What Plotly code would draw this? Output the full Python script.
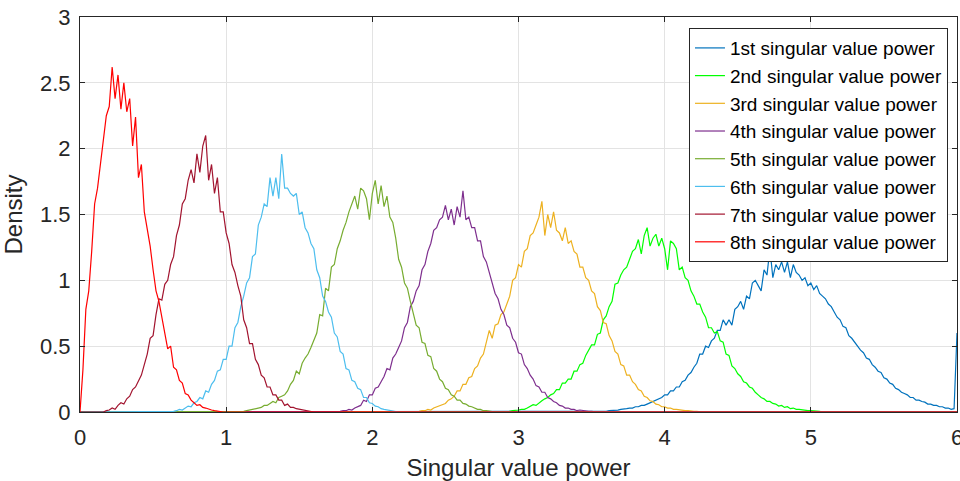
import plotly.graph_objects as go

STEP = 0.02
NAMES = ["1st singular value power", "2nd singular value power", "3rd singular value power",
         "4th singular value power", "5th singular value power", "6th singular value power",
         "7th singular value power", "8th singular value power"]
COLORS = ["#0072BD", "#00FF00", "#EDB120", "#7E2F8E", "#77AC30", "#4DBEEE", "#A2142F", "#FF0000"]

STARTS = [3.56, 2.90, 2.30, 1.76, 1.10, 0.60, 0.16, 0.00]
END_VALUES = [0.6, 0.0, 0.0, 0.0, 0.0, 0.0, 0.0, 0.0]

blue_vals = [0.0, 0.005, 0.005, 0.01, 0.01, 0.01, 0.015, 0.02, 0.02, 0.025,
             0.03, 0.03, 0.04, 0.04, 0.05, 0.05, 0.06, 0.07, 0.08, 0.09,
             0.10, 0.11, 0.13, 0.13, 0.16, 0.16, 0.19, 0.19, 0.23, 0.24,
             0.28, 0.30, 0.34, 0.37, 0.44, 0.44, 0.50, 0.49, 0.54, 0.56,
             0.62, 0.62, 0.70, 0.66, 0.70, 0.66, 0.78, 0.80, 0.84, 0.78,
             0.88, 0.86, 0.98, 1.00, 0.96, 0.92, 1.08, 1.04, 1.24, 1.02,
             1.12, 1.08, 1.14, 1.06, 1.14, 1.02, 1.12, 1.06, 1.04, 1.00,
             1.02, 0.96, 0.98, 0.93, 0.96, 0.90, 0.88, 0.86, 0.82, 0.80,
             0.76, 0.72, 0.70, 0.65, 0.64, 0.58, 0.56, 0.53, 0.50, 0.47,
             0.45, 0.41, 0.40, 0.36, 0.34, 0.31, 0.30, 0.26, 0.25, 0.22,
             0.21, 0.18, 0.17, 0.15, 0.14, 0.13, 0.11, 0.11, 0.09, 0.09,
             0.08, 0.075, 0.06, 0.06, 0.05, 0.05, 0.04, 0.04, 0.03, 0.03,
             0.02, 0.025]

green_vals = [0.0, 0.005, 0.005, 0.01, 0.01, 0.015, 0.02, 0.02, 0.03, 0.04,
              0.055, 0.05, 0.07, 0.085, 0.10, 0.11, 0.13, 0.14, 0.17, 0.17,
              0.22, 0.22, 0.25, 0.25, 0.31, 0.31, 0.36, 0.37, 0.43, 0.47,
              0.51, 0.51, 0.59, 0.60, 0.70, 0.73, 0.80, 0.84, 0.97, 0.98,
              1.04, 1.08, 1.10, 1.16, 1.22, 1.24, 1.31, 1.20, 1.34, 1.40,
              1.26, 1.32, 1.35, 1.26, 1.32, 1.24, 1.08, 1.30, 1.28, 1.24,
              1.08, 1.10, 1.02, 1.00, 0.92, 0.88, 0.82, 0.82, 0.76, 0.72,
              0.64, 0.64, 0.60, 0.61, 0.54, 0.53, 0.44, 0.43, 0.35, 0.33,
              0.29, 0.27, 0.23, 0.22, 0.19, 0.18, 0.15, 0.13, 0.11, 0.10,
              0.08, 0.08, 0.065, 0.06, 0.045, 0.05, 0.035, 0.04, 0.025, 0.03,
              0.02, 0.02, 0.015, 0.015, 0.01, 0.01, 0.01, 0.005, 0.005, 0.0,
              0.0, 0.0]

orange_vals = [0.0, 0.005, 0.01, 0.01, 0.02, 0.015, 0.03, 0.04, 0.05, 0.06,
               0.065, 0.09, 0.10, 0.12, 0.16, 0.16, 0.21, 0.21, 0.26, 0.27,
               0.33, 0.35, 0.41, 0.44, 0.52, 0.62, 0.56, 0.66, 0.67, 0.74,
               0.76, 0.82, 0.88, 1.00, 1.02, 1.12, 1.10, 1.22, 1.24, 1.34,
               1.36, 1.42, 1.48, 1.60, 1.34, 1.50, 1.40, 1.52, 1.38, 1.36,
               1.30, 1.40, 1.28, 1.30, 1.22, 1.20, 1.10, 1.10, 1.02, 1.00,
               0.92, 0.90, 0.80, 0.77, 0.68, 0.67, 0.58, 0.54, 0.46, 0.44,
               0.36, 0.35, 0.28, 0.28, 0.23, 0.21, 0.17, 0.16, 0.12, 0.11,
               0.085, 0.08, 0.06, 0.055, 0.04, 0.04, 0.03, 0.03, 0.02, 0.02,
               0.015, 0.01, 0.01, 0.01, 0.005, 0.005, 0.005, 0.0, 0.0, 0.0]

purple_vals = [0.0, 0.005, 0.01, 0.01, 0.02, 0.015, 0.03, 0.04, 0.05, 0.09,
               0.08, 0.13, 0.13, 0.18, 0.19, 0.23, 0.27, 0.33, 0.32, 0.41,
               0.44, 0.49, 0.54, 0.64, 0.68, 0.80, 0.84, 0.92, 0.96, 1.08,
               1.12, 1.22, 1.28, 1.38, 1.40, 1.46, 1.48, 1.57, 1.46, 1.54,
               1.42, 1.56, 1.48, 1.68, 1.46, 1.48, 1.40, 1.40, 1.30, 1.30,
               1.18, 1.14, 1.06, 1.00, 0.90, 0.86, 0.78, 0.74, 0.66, 0.64,
               0.56, 0.53, 0.45, 0.44, 0.36, 0.33, 0.28, 0.25, 0.20, 0.19,
               0.15, 0.15, 0.11, 0.10, 0.08, 0.07, 0.05, 0.045, 0.03, 0.03,
               0.02, 0.02, 0.01, 0.015, 0.01, 0.005, 0.005, 0.005, 0.0, 0.0]

olive_vals = [0.0, 0.005, 0.01, 0.015, 0.02, 0.025, 0.03, 0.035, 0.05, 0.05,
              0.065, 0.08, 0.07, 0.11, 0.12, 0.13, 0.16, 0.21, 0.24, 0.31,
              0.29, 0.37, 0.41, 0.44, 0.49, 0.54, 0.60, 0.74, 0.73, 0.94,
              0.92, 1.10, 1.12, 1.24, 1.30, 1.38, 1.44, 1.52, 1.58, 1.64,
              1.54, 1.70, 1.68, 1.62, 1.46, 1.66, 1.76, 1.58, 1.72, 1.56,
              1.64, 1.48, 1.44, 1.32, 1.16, 1.10, 0.98, 0.94, 0.84, 0.74,
              0.66, 0.64, 0.53, 0.52, 0.43, 0.42, 0.33, 0.31, 0.25, 0.23,
              0.18, 0.17, 0.13, 0.12, 0.09, 0.09, 0.065, 0.06, 0.045, 0.04,
              0.03, 0.02, 0.02, 0.01, 0.01, 0.005, 0.0, 0.0]

cyan_vals = [0.0, 0.0, 0.005, 0.01, 0.02, 0.015, 0.03, 0.045, 0.04, 0.07,
             0.08, 0.11, 0.10, 0.16, 0.15, 0.21, 0.24, 0.31, 0.32, 0.40,
             0.40, 0.50, 0.50, 0.64, 0.68, 0.80, 0.88, 0.98, 1.02, 1.18,
             1.20, 1.42, 1.48, 1.58, 1.56, 1.78, 1.64, 1.78, 1.62, 1.96,
             1.70, 1.70, 1.66, 1.64, 1.66, 1.50, 1.52, 1.40, 1.36, 1.28,
             1.24, 1.08, 1.02, 0.88, 0.84, 0.76, 0.72, 0.60, 0.57, 0.46,
             0.44, 0.33, 0.32, 0.24, 0.23, 0.18, 0.17, 0.11, 0.11, 0.07,
             0.065, 0.045, 0.04, 0.025, 0.02, 0.015, 0.01, 0.01, 0.005, 0.0,
             0.0]

darkred_vals = [0.0, 0.01, 0.015, 0.03, 0.02, 0.05, 0.07, 0.06, 0.10, 0.12,
                0.17, 0.19, 0.24, 0.28, 0.36, 0.44, 0.56, 0.58, 0.74, 0.86,
                0.85, 0.97, 1.00, 1.12, 1.18, 1.34, 1.42, 1.58, 1.62, 1.76,
                1.84, 1.74, 1.96, 1.82, 2.02, 2.10, 1.76, 1.88, 1.66, 1.78,
                1.52, 1.52, 1.36, 1.28, 1.12, 1.06, 0.96, 0.88, 0.70, 0.64,
                0.52, 0.52, 0.40, 0.36, 0.28, 0.26, 0.19, 0.19, 0.13, 0.13,
                0.09, 0.09, 0.05, 0.06, 0.035, 0.035, 0.025, 0.02, 0.015, 0.01,
                0.01, 0.005, 0.0]

red_vals = [0.00, 0.32, 0.78, 0.92, 1.22, 1.58, 1.70, 1.88, 2.08, 2.25,
            2.32, 2.62, 2.38, 2.56, 2.30, 2.50, 2.28, 2.38, 2.02, 2.24,
            1.78, 1.88, 1.52, 1.40, 1.26, 1.08, 0.92, 0.84, 0.72, 0.62,
            0.48, 0.50, 0.34, 0.32, 0.24, 0.22, 0.14, 0.13, 0.09, 0.07,
            0.05, 0.055, 0.035, 0.03, 0.02, 0.015, 0.01, 0.005, 0.0, 0.0,
            0.0]

SERIES = [blue_vals, green_vals, orange_vals, purple_vals,
          olive_vals, cyan_vals, darkred_vals, red_vals]

AX_COLOR = "#262626"
FONT = "Liberation Sans, Arial, Helvetica, sans-serif"

fig = go.Figure()
for name, color, start, vals, endv in zip(NAMES, COLORS, STARTS, SERIES, END_VALUES):
    xs = [start + STEP * i for i in range(len(vals))]
    ys = list(vals)
    if start > 0:
        xs = [0.0] + xs
        ys = [0.0] + ys
    xs.append(6.0)
    ys.append(endv)
    fig.add_trace(go.Scatter(x=xs, y=ys, mode="lines", name=name,
                             line=dict(color=color, width=1.2)))

axis_common = dict(showgrid=True, gridcolor="#e3e3e3", gridwidth=1,
                   ticks="inside", ticklen=5, tickcolor=AX_COLOR, tickwidth=1,
                   showline=True, linecolor=AX_COLOR, linewidth=1, mirror="ticks",
                   zeroline=False, ticklabeloverflow="allow", automargin=False,
                   tickfont=dict(size=22, color=AX_COLOR, family=FONT))

fig.update_layout(
    width=960, height=481,
    margin=dict(l=80, r=3, t=17, b=69),
    paper_bgcolor="white", plot_bgcolor="white",
    font=dict(family=FONT, color=AX_COLOR),
    xaxis=dict(range=[0, 6], dtick=1, tick0=0,
               title=dict(text="Singular value power", font=dict(size=24, color=AX_COLOR)),
               ticklabelstandoff=6, **axis_common),
    yaxis=dict(range=[0, 3], dtick=0.5, tick0=0,
               title=dict(text="Density", font=dict(size=24, color=AX_COLOR)),
               ticklabelstandoff=4, **axis_common),
    legend=dict(x=0.9897, xanchor="right", y=0.972, yanchor="top",
                bordercolor=AX_COLOR, borderwidth=1, bgcolor="white",
                font=dict(size=19, color="black", family=FONT),
                tracegroupgap=0),
    showlegend=True,
)

fig.write_html("out.html")
